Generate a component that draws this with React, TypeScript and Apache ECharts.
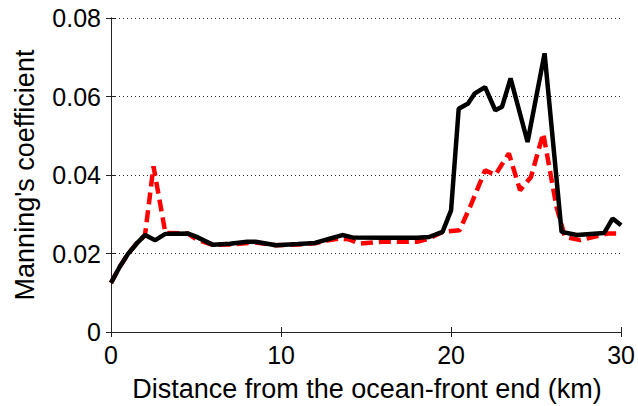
import React, { useEffect, useRef } from "react";
import * as echarts from "echarts";

const xTicks = [0, 10, 20, 30];
const yTicks = [0, 0.02, 0.04, 0.06, 0.08];

const blackX = [0, 0.5, 1, 1.5, 2, 2.6, 3.2, 4.5, 5, 6, 7, 8, 8.5, 9.7, 11, 12, 12.8, 13.6, 14.2, 16, 18, 18.7, 19.5, 20, 20.45, 21, 21.4, 22, 22.6, 23, 23.5, 24.5, 25.5, 26.5, 27.4, 29, 29.5, 30];
const blackY = [0.0125, 0.0165, 0.0199, 0.0225, 0.0247, 0.0234, 0.025, 0.0251, 0.0243, 0.0222, 0.0225, 0.023, 0.023, 0.0221, 0.0224, 0.0227, 0.0237, 0.0247, 0.0241, 0.024, 0.024, 0.0242, 0.0255, 0.031, 0.0569, 0.0582, 0.0608, 0.0624, 0.0565, 0.0574, 0.0646, 0.0484, 0.071, 0.0255, 0.0247, 0.0252, 0.0289, 0.0272];

const redX = [0, 0.5, 1, 1.5, 2, 2.5, 3.2, 4.5, 5.1, 6, 7, 8.5, 9.7, 11, 12, 12.8, 13.4, 14, 14.6, 16, 18, 18.7, 19.5, 20.5, 21.2, 22, 22.6, 23.4, 24.06, 24.7, 25.42, 26.2, 26.7, 27.6, 29.2, 30];
const redY = [0.0125, 0.0165, 0.0199, 0.0225, 0.0247, 0.0422, 0.0252, 0.0251, 0.0234, 0.0222, 0.0223, 0.0228, 0.0221, 0.0223, 0.0226, 0.0234, 0.0238, 0.0236, 0.0225, 0.023, 0.023, 0.0238, 0.0255, 0.0259, 0.0327, 0.0412, 0.04, 0.0455, 0.0361, 0.0395, 0.0506, 0.0319, 0.0242, 0.0234, 0.0251, 0.0251];

const xTitle = "Distance from the ocean-front end (km)";
const yTitle = "Manning's coefficient";

const FONT = "'Liberation Sans', Arial, sans-serif";

export default function App() {
  const ref = useRef<HTMLDivElement>(null);
  useEffect(() => {
    if (!ref.current) return;
    const chart = echarts.init(ref.current, null, { renderer: "svg" });
    const axisLine = { show: true, lineStyle: { color: "#222", width: 1 } };
    const tick = { show: true, inside: true, length: 5, lineStyle: { color: "#222", width: 1 } };
    chart.setOption({
      animation: false,
      backgroundColor: "#fff",
      grid: { left: 111, right: 15, top: 18, bottom: 74, containLabel: false },
      xAxis: [
        {
          type: "value",
          min: xTicks[0],
          max: xTicks[xTicks.length - 1],
          interval: 10,
          position: "bottom",
          axisLine,
          axisTick: tick,
          splitLine: { show: false },
          axisLabel: { color: "#000", fontSize: 25, fontFamily: FONT, margin: 10 },
        },
        {
          type: "value",
          min: xTicks[0],
          max: xTicks[xTicks.length - 1],
          interval: 10,
          position: "top",
          axisLine,
          axisTick: tick,
          splitLine: { show: false },
          axisLabel: { show: false },
        },
      ],
      yAxis: [
        {
          type: "value",
          min: yTicks[0],
          max: yTicks[yTicks.length - 1],
          interval: 0.02,
          position: "left",
          axisLine,
          axisTick: tick,
          splitLine: { show: true, lineStyle: { color: "#333", width: 1, type: [1, 3] } },
          axisLabel: { color: "#000", fontSize: 25, fontFamily: FONT, margin: 10 },
        },
        {
          type: "value",
          min: yTicks[0],
          max: yTicks[yTicks.length - 1],
          interval: 0.02,
          position: "right",
          axisLine,
          axisTick: tick,
          splitLine: { show: false },
          axisLabel: { show: false },
        },
      ],
      graphic: [
        {
          type: "text",
          x: 367,
          y: 389,
          style: {
            text: xTitle,
            fill: "#000",
            font: `27px ${FONT}`,
            textAlign: "center",
            textVerticalAlign: "middle",
          },
        },
        {
          type: "text",
          x: 25,
          y: 175,
          rotation: Math.PI / 2,
          style: {
            text: yTitle,
            fill: "#000",
            font: `27px ${FONT}`,
            textAlign: "center",
            textVerticalAlign: "middle",
          },
        },
      ],
      series: [
        {
          type: "line",
          data: redX.map((x, i) => [x, redY[i]]),
          showSymbol: false,
          symbol: "none",
          lineStyle: { color: "#ff0000", width: 4.5, type: [12, 6] },
          z: 2,
        },
        {
          type: "line",
          data: blackX.map((x, i) => [x, blackY[i]]),
          showSymbol: false,
          symbol: "none",
          lineStyle: { color: "#000", width: 4.5 },
          z: 3,
        },
      ],
    });
    return () => chart.dispose();
  }, []);
  return (
    <div
      ref={ref}
      style={{ position: "fixed", left: 0, top: 0, width: 638, height: 406, background: "#fff" }}
    />
  );
}
